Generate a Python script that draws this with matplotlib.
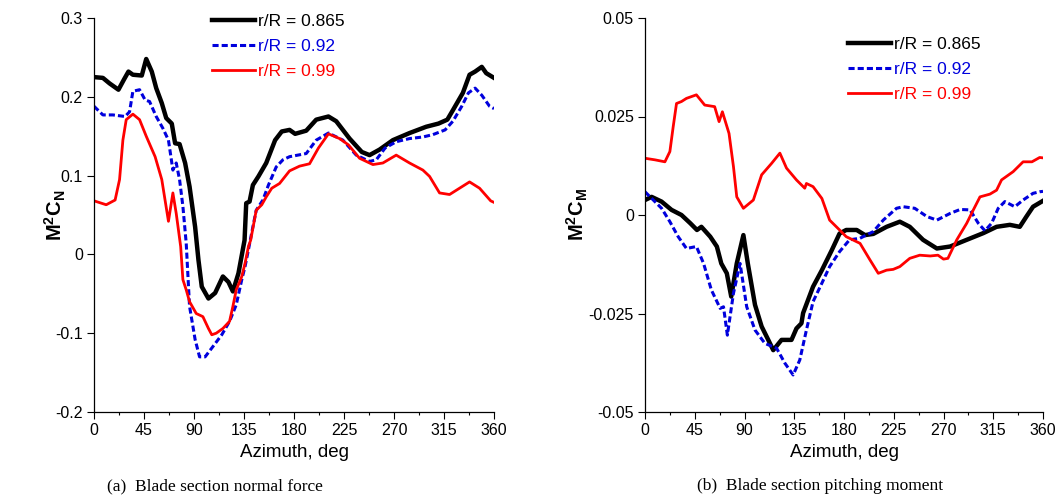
import matplotlib
matplotlib.use('Agg')
import matplotlib.pyplot as plt
from matplotlib.ticker import MultipleLocator

plt.rcParams['font.family'] = ['Liberation Sans', 'DejaVu Sans']
plt.rcParams['mathtext.fontset'] = 'custom'
plt.rcParams['mathtext.rm'] = 'Liberation Sans'
plt.rcParams['mathtext.bf'] = 'Liberation Sans:bold'
plt.rcParams['mathtext.it'] = 'Liberation Sans:italic'

# (a) normal force, M^2 Cn
az_n_865 = [0, 8, 14, 22, 27, 31, 35, 43, 47, 52, 56, 61, 65, 70, 73, 77, 82, 86, 91, 94, 97, 103,
            109, 116, 121, 125, 130, 135.5, 137, 140, 143, 148, 155, 163, 169, 176, 181, 191, 200,
            211, 218, 230, 241, 248, 257, 269, 284, 299, 310, 318, 323, 332, 338, 343, 349, 353, 360]
cn_865 = [0.225, 0.224, 0.217, 0.209, 0.222, 0.232, 0.228, 0.227, 0.248, 0.232, 0.211, 0.192, 0.173,
          0.166, 0.141, 0.140, 0.116, 0.086, 0.035, -0.007, -0.041, -0.056, -0.049, -0.028, -0.035,
          -0.047, -0.024, 0.018, 0.065, 0.067, 0.088, 0.099, 0.116, 0.145, 0.156, 0.158, 0.153, 0.157,
          0.171, 0.175, 0.169, 0.147, 0.130, 0.126, 0.133, 0.145, 0.154, 0.162, 0.166, 0.171, 0.183,
          0.205, 0.228, 0.232, 0.238, 0.230, 0.224]

az_n_92 = [0, 8, 17, 28, 32, 35, 41, 46, 50, 56, 62, 67, 71, 74, 77, 80, 83, 86, 91, 95, 100, 107,
           115, 122, 128, 133, 136, 139, 143, 146, 152, 157, 164, 170, 176, 191, 200, 211, 224, 236,
           248, 254, 262, 272, 284, 296, 305, 316, 323, 331, 337, 343, 349, 356, 360]
cn_92 = [0.188, 0.177, 0.177, 0.175, 0.181, 0.207, 0.209, 0.196, 0.194, 0.175, 0.160, 0.145, 0.107,
         0.116, 0.095, 0.061, 0.014, -0.066, -0.108, -0.130, -0.130, -0.117, -0.102, -0.085, -0.064,
         -0.032, -0.015, 0.006, 0.035, 0.056, 0.069, 0.088, 0.111, 0.120, 0.124, 0.128, 0.145, 0.154,
         0.145, 0.126, 0.118, 0.120, 0.135, 0.143, 0.147, 0.149, 0.152, 0.158, 0.169, 0.188, 0.205,
         0.211, 0.202, 0.188, 0.185]

az_n_99 = [0, 11, 19, 23, 26, 29, 35, 41, 47, 55, 61, 67, 71, 74, 78, 80, 83, 86, 92, 98, 103, 106,
           110, 116, 122, 125, 128, 133, 136, 139, 141, 146, 151, 155, 160, 167, 176, 185, 194, 202,
           211, 221, 229, 239, 251, 260, 272, 284, 296, 302, 311, 320, 329, 338, 347, 357, 360]
cn_99 = [0.068, 0.063, 0.069, 0.095, 0.145, 0.171, 0.178, 0.171, 0.150, 0.124, 0.095, 0.042, 0.078,
         0.052, 0.010, -0.032, -0.045, -0.060, -0.075, -0.079, -0.094, -0.102, -0.100, -0.094, -0.085,
         -0.066, -0.045, -0.028, -0.011, 0.010, 0.018, 0.056, 0.063, 0.073, 0.084, 0.090, 0.106, 0.112,
         0.115, 0.135, 0.153, 0.147, 0.139, 0.122, 0.114, 0.116, 0.126, 0.116, 0.107, 0.099, 0.078,
         0.076, 0.084, 0.092, 0.084, 0.068, 0.066]

# (b) pitching moment, M^2 Cm
az_m_865 = [0, 6, 15, 24, 33, 41, 47, 51, 59, 65, 69, 74, 78, 83, 89, 93, 99.5, 105.5, 111.5, 116,
            123.5, 132.5, 137, 141.5, 143, 152, 160, 169, 176, 182, 191.5, 199, 206.5, 218.5, 230.5,
            239.5, 251.5, 264, 276, 291, 306, 318, 330, 339, 345, 351, 360]
cm_865 = [0.0038, 0.0046, 0.0034, 0.0013, 0.0, -0.0021, -0.0038, -0.0030, -0.0055, -0.0080, -0.0123,
          -0.0148, -0.0207, -0.0123, -0.0051, -0.0123, -0.0228, -0.0283, -0.0317, -0.0343, -0.0317,
          -0.0317, -0.0288, -0.0275, -0.0249, -0.0182, -0.0140, -0.0089, -0.0047, -0.0038, -0.0038,
          -0.0051, -0.0048, -0.0030, -0.0017, -0.0030, -0.0063, -0.0085, -0.0080, -0.0063, -0.0046,
          -0.0030, -0.0025, -0.0030, -0.0004, 0.0021, 0.0036]

az_m_92 = [0, 7.5, 15, 22.5, 30, 37.5, 46.5, 53, 60, 68, 71, 74.5, 80, 86, 92, 99.5, 108.5, 119,
           126.5, 134, 140, 146, 152, 160, 167, 176, 185, 194.5, 206.5, 215.5, 227.5, 233.5, 244, 255,
           264, 276, 285, 294, 301.5, 307.5, 313.5, 319.5, 325.5, 334.5, 342, 351, 357, 360]
cm_92 = [0.0059, 0.0038, 0.0017, -0.0017, -0.0055, -0.0085, -0.0080, -0.0123, -0.0190, -0.0237,
         -0.0233, -0.0305, -0.0199, -0.0123, -0.0233, -0.0292, -0.0326, -0.0338, -0.0376, -0.0406,
         -0.0368, -0.0292, -0.0220, -0.0173, -0.0131, -0.0093, -0.0063, -0.0059, -0.0042, -0.0013,
         0.0017, 0.0021, 0.0017, -0.0004, -0.0013, 0.0004, 0.0014, 0.0013, -0.0021, -0.0040, -0.0021,
         0.0017, 0.0034, 0.0021, 0.0038, 0.0055, 0.0059, 0.0060]

az_m_99 = [0, 9, 18, 22.5, 25.5, 28.5, 33, 37.5, 46.5, 54, 63, 67, 70, 76, 80, 83, 89, 98, 105.5,
           114.5, 122, 128, 137, 144.5, 146, 152, 160, 167, 176, 182, 194.5, 203.5, 211, 218.5, 224.5,
           230.5, 239.5, 248.5, 258, 265, 270, 274, 282, 291, 297, 303, 312, 318, 322.5, 333, 342,
           350, 357, 360]
cm_99 = [0.0144, 0.0140, 0.0135, 0.0161, 0.0224, 0.0283, 0.0288, 0.0296, 0.0305, 0.0279, 0.0275,
         0.0237, 0.0262, 0.0207, 0.0123, 0.0046, 0.0017, 0.0038, 0.0102, 0.0131, 0.0157, 0.0119,
         0.0089, 0.0068, 0.0080, 0.0072, 0.0042, -0.0013, -0.0038, -0.0055, -0.0072, -0.0114, -0.0148,
         -0.0140, -0.0138, -0.0131, -0.0110, -0.0102, -0.0104, -0.0102, -0.0112, -0.0110, -0.0063,
         -0.0021, 0.0013, 0.0046, 0.0053, 0.0063, 0.0089, 0.0110, 0.0135, 0.0135, 0.0146, 0.0145]

labels = ['r/R = 0.865', 'r/R = 0.92', 'r/R = 0.99']
colors = ['black', '#0000dd', '#ff0000']
styles = ['-', (0, (2, 1)), '-']
widths = [3.2, 2.2, 2.0]

yt_n = [-0.2, -0.1, 0, 0.1, 0.2, 0.3]
yt_n_labels = ['-0.2', '-0.1', '0', '0.1', '0.2', '0.3']
yt_m = [-0.05, -0.025, 0, 0.025, 0.05]
yt_m_labels = ['-0.05', '-0.025', '0', '0.025', '0.05']

fig = plt.figure(figsize=(10.6, 5.01), dpi=100)
ax1 = fig.add_axes([94 / 1060, 89 / 501, 400 / 1060, 394 / 501])
ax2 = fig.add_axes([645 / 1060, 89 / 501, 398 / 1060, 394 / 501])


def draw(ax, series, yticks, ylabels, ylabel, ylab_x, leg_xy):
    for (x, y), lab, c, ls, lw in zip(series, labels, colors, styles, widths):
        ax.plot(x, y, color=c, linestyle=ls, linewidth=lw, label=lab)
    ax.set_xlim(0, 360)
    ax.set_ylim(yticks[0], yticks[-1])
    ax.set_xticks(range(0, 361, 45))
    ax.xaxis.set_minor_locator(MultipleLocator(22.5))
    ax.set_yticks(yticks)
    ax.set_yticklabels(ylabels)
    ax.tick_params(which='major', direction='out', length=5, width=0.8, labelsize=11.5, pad=3)
    ax.tick_params(which='minor', direction='out', length=2.5, width=0.8)
    for s in ['top', 'right']:
        ax.spines[s].set_visible(False)
    for s in ['left', 'bottom']:
        ax.spines[s].set_linewidth(0.9)
    ax.set_xlabel('Azimuth, deg', fontsize=13.5)
    ax.xaxis.set_label_coords(0.5, -(444 - 412) / 394)
    ax.set_ylabel(ylabel, fontsize=14.5)
    ax.yaxis.set_label_coords(ylab_x, 0.5)
    ax.legend(loc='upper left', bbox_to_anchor=leg_xy, frameon=False, fontsize=12.5,
              handlelength=2.5, handletextpad=0.17, labelspacing=0.56, borderpad=0,
              borderaxespad=0, labelcolor='linecolor')


draw(ax1, [(az_n_865, cn_865), (az_n_92, cn_92), (az_n_99, cn_99)], yt_n, yt_n_labels,
     r'$\mathbf{M^{2}C_{N}}$', -0.065, (0.295, 1.01))
draw(ax2, [(az_m_865, cm_865), (az_m_92, cm_92), (az_m_99, cm_99)], yt_m, yt_m_labels,
     r'$\mathbf{M^{2}C_{M}}$', -0.138, (0.51, 0.952))

fig.text(215 / 1060, 1 - 486 / 501, '(a)  Blade section normal force', family='Liberation Serif',
         fontsize=12.5, ha='center', va='center')
fig.text(820 / 1060, 1 - 486 / 501, '(b)  Blade section pitching moment', family='Liberation Serif',
         fontsize=12.5, ha='center', va='center')

fig.savefig('out.png', dpi=100)
